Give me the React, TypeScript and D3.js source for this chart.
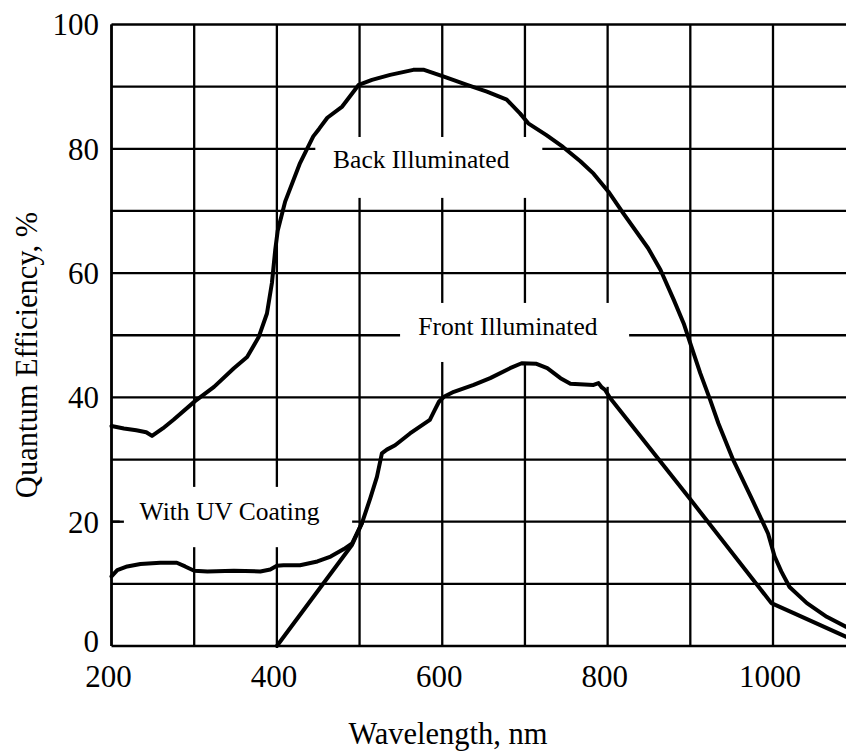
import React from "react";
import * as d3 from "d3";

const xTicks = [200, 400, 600, 800, 1000];
const yTicks = [0, 20, 40, 60, 80, 100];
const xGrid = [200, 300, 400, 500, 600, 700, 800, 900, 1000, 1100];
const yGrid = [0, 10, 20, 30, 40, 50, 60, 70, 80, 90, 100];

const backIlluminated: [number, number][] = [
  [200, 35.4], [215, 35.0], [230, 34.7], [242, 34.4], [249, 33.8], [262, 35.0], [275, 36.4],
  [301, 39.4], [324, 41.7], [348, 44.7], [364, 46.5], [378, 49.7], [388, 53.5], [394, 58.4],
  [398, 63.7], [401, 66.8], [410, 71.5], [428, 77.7], [444, 82.0], [451, 83.2], [461, 85.0],
  [479, 86.8], [491, 88.9], [499, 90.3], [515, 91.1], [537, 91.9], [565, 92.7], [578, 92.7],
  [602, 91.6], [630, 90.3], [654, 89.2], [678, 87.9], [694, 85.7], [704, 84.1], [726, 82.2],
  [746, 80.3], [767, 78.0], [783, 76.0], [801, 73.1], [819, 69.6], [849, 64.0], [864, 60.5],
  [880, 55.7], [892, 51.9], [900, 48.7], [912, 43.9], [924, 39.6], [934, 35.8], [952, 29.9],
  [974, 23.8], [994, 18.1], [1002, 14.4], [1010, 12.0], [1020, 9.5], [1041, 6.9], [1065, 4.7],
  [1088, 3.1], [1100, 2.4],
];

const frontIlluminated: [number, number][] = [
  [400, 0], [491, 16.3], [503, 19.8], [513, 23.8], [521, 27.2], [527, 31.0], [533, 31.6],
  [543, 32.3], [561, 34.2], [585, 36.4], [591, 38.0], [596, 39.3], [602, 40.1], [614, 40.9],
  [638, 42.0], [658, 43.1], [682, 44.7], [696, 45.5], [714, 45.4], [727, 44.7], [743, 43.1],
  [755, 42.2], [783, 42.0], [789, 42.3], [793, 41.6], [797, 41.2], [803, 39.9], [900, 23.6],
  [984, 9.3], [998, 6.9], [1025, 5.3], [1088, 1.5], [1100, 0.9],
];

const uvCoating: [number, number][] = [
  [200, 11.2], [207, 12.2], [219, 12.8], [235, 13.2], [259, 13.4], [279, 13.4], [289, 12.8],
  [300, 12.1], [316, 12.0], [348, 12.1], [380, 12.0], [392, 12.3], [400, 12.9], [408, 13.0],
  [428, 13.0], [449, 13.6], [465, 14.4], [481, 15.6], [491, 16.5], [503, 19.8],
];

const labels = [
  { text: "Back Illuminated", wl: 468, qe: 76.9 },
  { text: "Front Illuminated", wl: 571, qe: 50.0 },
  { text: "With UV Coating", wl: 234, qe: 20.3 },
];

// white boxes behind labels (wavelength range, QE range)
const labelBoxes = [
  { wl0: 446.5, wl1: 721, qe0: 72.1, qe1: 81.9 },
  { wl0: 549, wl1: 826, qe0: 45.7, qe1: 55.2 },
  { wl0: 790, wl1: 815, qe0: 41.7, qe1: 46 },
  { wl0: 210, wl1: 491, qe0: 15.9, qe1: 25.6 },
];

const W = 846;
const H = 751;
const FONT = "'Liberation Serif','Times New Roman',serif";

export default function App() {
  const x = d3.scaleLinear().domain([200, 1000]).range([111.5, 773]);
  const y = d3.scaleLinear().domain([0, 100]).range([646, 24.5]);
  const line = d3
    .line<[number, number]>()
    .x((d) => x(d[0]))
    .y((d) => y(d[1]))
    .curve(d3.curveLinear);

  return (
    <svg
      width={W}
      height={H}
      style={{ position: "absolute", left: 0, top: 0, background: "#fff" }}
      fontFamily={FONT}
    >
      <rect x={0} y={0} width={W} height={H} fill="#fff" />
      <g stroke="#000" strokeWidth={2.3}>
        {xGrid.map((v) => (
          <line key={"vx" + v} x1={x(v)} x2={x(v)} y1={y(0)} y2={y(100)} />
        ))}
        {yGrid.map((v) => (
          <line key={"hy" + v} x1={x(200)} x2={x(1100)} y1={y(v)} y2={y(v)} />
        ))}
      </g>
      {labelBoxes.map((b, i) => (
        <rect
          key={"box" + i}
          x={x(b.wl0)}
          y={y(b.qe1)}
          width={x(b.wl1) - x(b.wl0)}
          height={y(b.qe0) - y(b.qe1)}
          fill="#fff"
        />
      ))}
      <line x1={x(200)} x2={x(200)} y1={y(0)} y2={y(100)} stroke="#000" strokeWidth={2.5} />
      <line x1={x(200)} x2={x(215)} y1={y(20)} y2={y(20)} stroke="#000" strokeWidth={2.3} />
      <g fill="none" stroke="#000" strokeWidth={4} strokeLinejoin="round" strokeLinecap="round">
        <path d={line(backIlluminated) || ""} />
        <path d={line(frontIlluminated) || ""} />
        <path d={line(uvCoating) || ""} />
      </g>
      {labels.map((l) => (
        <text key={l.text} x={x(l.wl)} y={y(l.qe)} fontSize={25.5} fill="#000">
          {l.text}
        </text>
      ))}
      {yTicks.map((v) => (
        <text
          key={"yt" + v}
          x={99}
          y={y(v)}
          dy={v === 0 ? "0.18em" : "0.35em"}
          textAnchor="end"
          fontSize={31}
          fill="#000"
        >
          {v}
        </text>
      ))}
      {xTicks.map((v) => (
        <text key={"xt" + v} x={x(v) - 3} y={687} textAnchor="middle" fontSize={31} fill="#000">
          {v}
        </text>
      ))}
      <text x={448} y={744} textAnchor="middle" fontSize={30.5} fill="#000">
        Wavelength, nm
      </text>
      <text
        transform={`translate(37, 355) rotate(-90)`}
        textAnchor="middle"
        fontSize={30.5}
        fill="#000"
      >
        Quantum Efficiency, %
      </text>
    </svg>
  );
}
